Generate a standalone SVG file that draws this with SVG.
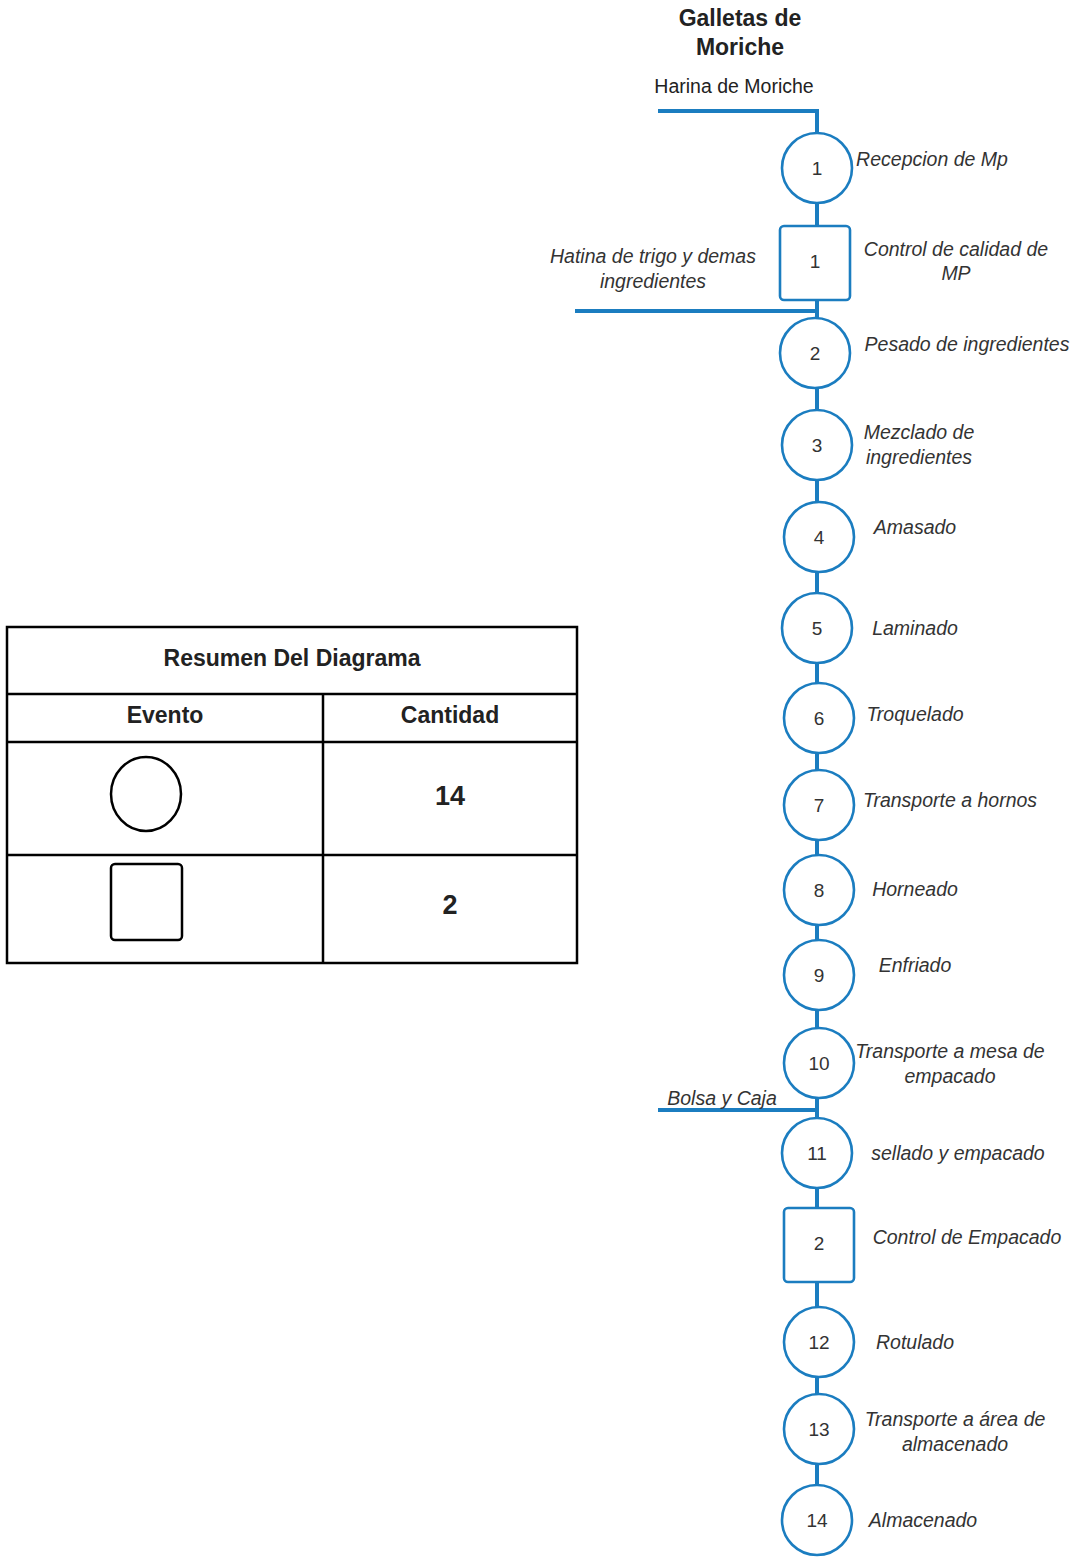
<svg xmlns="http://www.w3.org/2000/svg" width="1073" height="1558" viewBox="0 0 1073 1558">
<style>
.n{fill:#fff;stroke:#1b7dc0;stroke-width:2.6}
.c{fill:none;stroke:#1b7dc0;stroke-width:4}
.num{font-family:"Liberation Sans",Arial,sans-serif;font-size:19px;fill:#333;text-anchor:middle;dominant-baseline:central}
.lb{font-family:"Liberation Sans",Arial,sans-serif;font-size:19.5px;font-style:italic;fill:#333;text-anchor:middle;dominant-baseline:central}
.t{font-family:"Liberation Sans",Arial,sans-serif;fill:#222;text-anchor:middle;dominant-baseline:central}
.tb{fill:none;stroke:#000;stroke-width:2.5}
.sym{fill:#fff;stroke:#000;stroke-width:2.5}
</style>
<rect width="1073" height="1558" fill="#fff"/>
<text class="t" x="740" y="18" font-size="23" font-weight="bold" fill="#333">Galletas de</text>
<text class="t" x="740" y="47" font-size="23" font-weight="bold" fill="#333">Moriche</text>
<text class="t" x="734" y="86" font-size="19.5" fill="#333">Harina de Moriche</text>
<g id="connectors">
<polyline class="c" points="658,111 817,111 817,1540"/>
<line class="c" x1="575" y1="311" x2="817" y2="311"/>
<line class="c" x1="658" y1="1110" x2="817" y2="1110"/>
</g>
<g id="op1"><circle class="n" cx="817" cy="168" r="35"/><text class="num" x="817" y="168">1</text><text class="lb" x="932" y="159">Recepcion de Mp</text></g>
<g id="insp1"><rect class="n" x="780" y="226" width="70" height="74" rx="4"/><text class="num" x="815" y="261">1</text><text class="lb" x="956" y="249">Control de calidad de</text><text class="lb" x="956" y="273">MP</text></g>
<g id="in2"><text class="lb" x="653" y="256">Hatina de trigo y demas</text><text class="lb" x="653" y="281">ingredientes</text></g>
<g id="op2"><circle class="n" cx="815" cy="353" r="35"/><text class="num" x="815" y="353">2</text><text class="lb" x="967" y="344">Pesado de ingredientes</text></g>
<g id="op3"><circle class="n" cx="817" cy="445" r="35"/><text class="num" x="817" y="445">3</text><text class="lb" x="919" y="432">Mezclado de</text><text class="lb" x="919" y="457">ingredientes</text></g>
<g id="op4"><circle class="n" cx="819" cy="537" r="35"/><text class="num" x="819" y="537">4</text><text class="lb" x="915" y="527">Amasado</text></g>
<g id="op5"><circle class="n" cx="817" cy="628" r="35"/><text class="num" x="817" y="628">5</text><text class="lb" x="915" y="628">Laminado</text></g>
<g id="op6"><circle class="n" cx="819" cy="718" r="35"/><text class="num" x="819" y="718">6</text><text class="lb" x="915" y="714">Troquelado</text></g>
<g id="op7"><circle class="n" cx="819" cy="805" r="35"/><text class="num" x="819" y="805">7</text><text class="lb" x="950" y="800">Transporte a hornos</text></g>
<g id="op8"><circle class="n" cx="819" cy="890" r="35"/><text class="num" x="819" y="890">8</text><text class="lb" x="915" y="889">Horneado</text></g>
<g id="op9"><circle class="n" cx="819" cy="975" r="35"/><text class="num" x="819" y="975">9</text><text class="lb" x="915" y="965">Enfriado</text></g>
<g id="op10"><circle class="n" cx="819" cy="1063" r="35"/><text class="num" x="819" y="1063">10</text><text class="lb" x="950" y="1051">Transporte a mesa de</text><text class="lb" x="950" y="1076">empacado</text></g>
<g id="in3"><text class="lb" x="722" y="1098">Bolsa y Caja</text></g>
<g id="op11"><circle class="n" cx="817" cy="1153" r="35"/><text class="num" x="817" y="1153">11</text><text class="lb" x="958" y="1153">sellado y empacado</text></g>
<g id="insp2"><rect class="n" x="784" y="1208" width="70" height="74" rx="4"/><text class="num" x="819" y="1243">2</text><text class="lb" x="967" y="1237">Control de Empacado</text></g>
<g id="op12"><circle class="n" cx="819" cy="1342" r="35"/><text class="num" x="819" y="1342">12</text><text class="lb" x="915" y="1342">Rotulado</text></g>
<g id="op13"><circle class="n" cx="819" cy="1429" r="35"/><text class="num" x="819" y="1429">13</text><text class="lb" x="955" y="1419">Transporte a área de</text><text class="lb" x="955" y="1444">almacenado</text></g>
<g id="op14"><circle class="n" cx="817" cy="1520" r="35"/><text class="num" x="817" y="1520">14</text><text class="lb" x="923" y="1520">Almacenado</text></g>
<g id="summary">
<rect class="tb" x="7" y="627" width="570" height="336"/>
<line class="tb" x1="7" y1="694" x2="577" y2="694"/>
<line class="tb" x1="7" y1="742" x2="577" y2="742"/>
<line class="tb" x1="7" y1="855" x2="577" y2="855"/>
<line class="tb" x1="323" y1="694" x2="323" y2="963"/>
<text class="t" x="292" y="658" font-size="23" font-weight="bold">Resumen Del Diagrama</text>
<text class="t" x="165" y="715" font-size="23" font-weight="bold">Evento</text>
<text class="t" x="450" y="715" font-size="23" font-weight="bold">Cantidad</text>
<ellipse class="sym" cx="146" cy="794" rx="35" ry="37"/>
<text class="t" x="450" y="796" font-size="27" font-weight="bold">14</text>
<rect class="sym" x="111" y="864" width="71" height="76" rx="4"/>
<text class="t" x="450" y="905" font-size="27" font-weight="bold">2</text>
</g>
</svg>
